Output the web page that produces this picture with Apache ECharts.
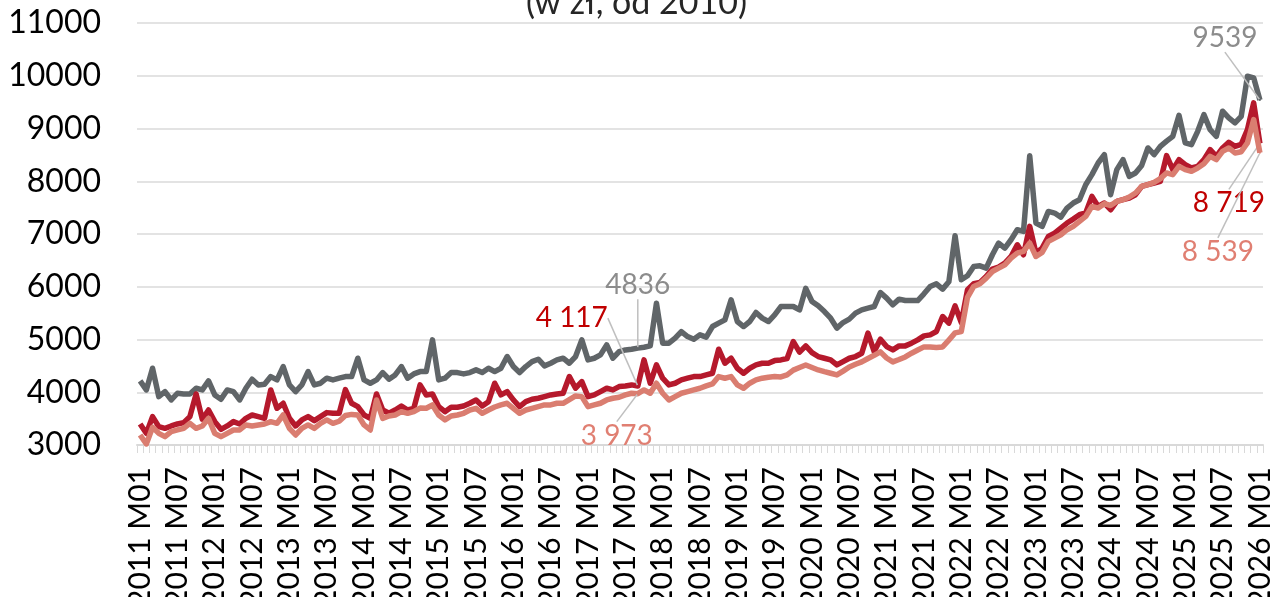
<!DOCTYPE html>
<html>
<head>
<meta charset="utf-8">
<script src="https://cdn.jsdelivr.net/npm/echarts@6/dist/echarts.min.js"></script>
<style>
    html, body {margin: 0; padding: 0; background: #fff;}
    #chart {width: 1273px; height: 597px;}
</style>
</head>
<body>
<div id="chart"></div>
<script>
// kategorie: miesiące 2011 M01 - 2026 M01
let months = [];
for (let y = 2011; y <= 2026; y++) {
    for (let m = 1; m <= 12; m++) {
        if (y === 2026 && m > 1) break;
        months.push(y + ' M' + (m < 10 ? '0' + m : m));
    }
}

let y_ticks = [3000, 4000, 5000, 6000, 7000, 8000, 9000, 10000, 11000];

// szara linia
let gray_values = [
    4215, 4044, 4455, 3917, 4012, 3854, 3981, 3968, 3968, 4076, 4044, 4215,
    3949, 3867, 4044, 4012, 3854, 4076, 4247, 4139, 4152, 4297, 4234, 4487,
    4139, 4012, 4139, 4392, 4139, 4171, 4266, 4234, 4266, 4297, 4297, 4645,
    4234, 4171, 4234, 4373, 4247, 4329, 4487, 4266, 4348, 4392, 4392, 4993,
    4234, 4266, 4373, 4373, 4348, 4373, 4424, 4373, 4455, 4392, 4455, 4677,
    4487, 4373, 4487, 4581, 4626, 4500, 4550, 4613, 4645, 4550, 4677, 4993,
    4613, 4645, 4708, 4898, 4645, 4771, 4803, 4816, 4836, 4854, 4879, 5689,
    4930, 4930, 5025, 5151, 5056, 5006, 5088, 5044, 5246, 5310, 5373, 5752,
    5341, 5246, 5341, 5512, 5405, 5341, 5467, 5625, 5625, 5625, 5560, 5970,
    5720, 5638, 5530, 5404, 5215, 5321, 5386, 5500, 5562, 5594, 5625, 5891,
    5784, 5657, 5765, 5739, 5739, 5739, 5866, 6005, 6056, 5955, 6094, 6967,
    6132, 6208, 6385, 6397, 6353, 6606, 6828, 6733, 6891, 7081, 7049, 8485,
    7208, 7144, 7428, 7397, 7321, 7492, 7587, 7650, 7935, 8125, 8346, 8504,
    7745, 8220, 8409, 8093, 8157, 8300, 8631, 8504, 8662, 8760, 8852, 9250,
    8726, 8694, 8947, 9263, 8979, 8852, 9327, 9201, 9106, 9231, 9991, 9960,
    9539
];

// czerwona linia
let red_values = [
    3399, 3221, 3538, 3348, 3316, 3361, 3399, 3424, 3538, 3968, 3487, 3664,
    3443, 3297, 3361, 3443, 3399, 3506, 3569, 3538, 3506, 4044, 3696, 3791,
    3506, 3361, 3475, 3538, 3462, 3538, 3614, 3601, 3601, 4050, 3791, 3727,
    3569, 3506, 3968, 3664, 3601, 3664, 3740, 3664, 3696, 4139, 3949, 3968,
    3727, 3632, 3715, 3715, 3740, 3791, 3854, 3740, 3822, 4171, 3949, 4012,
    3854, 3727, 3822, 3867, 3886, 3917, 3949, 3968, 3981, 4297, 4076, 4202,
    3917, 3949, 4012, 4076, 4044, 4107, 4120, 4139, 4117, 4613, 4171, 4518,
    4266, 4139, 4171, 4234, 4266, 4297, 4297, 4329, 4360, 4816, 4550, 4645,
    4455, 4360, 4455, 4518, 4550, 4550, 4600, 4613, 4640, 4961, 4760, 4879,
    4752, 4677, 4645, 4613, 4518, 4582, 4645, 4677, 4740, 5120, 4771, 5006,
    4866, 4803, 4879, 4879, 4930, 4993, 5069, 5088, 5151, 5436, 5310, 5638,
    5321, 5942, 6056, 6081, 6194, 6334, 6373, 6449, 6574, 6796, 6606, 7144,
    6638, 6733, 6954, 7018, 7113, 7208, 7283, 7365, 7400, 7713, 7523, 7587,
    7460, 7618, 7650, 7682, 7745, 7903, 7935, 7967, 8000, 8485, 8220, 8409,
    8314, 8251, 8282, 8409, 8599, 8472, 8631, 8738, 8662, 8700, 8979, 9485,
    8719
];

// jasnoczerwona linia
let salmon_values = [
    3190, 3020, 3335, 3221, 3158, 3253, 3285, 3316, 3411, 3316, 3361, 3506,
    3221, 3158, 3221, 3285, 3285, 3380, 3361, 3380, 3399, 3443, 3411, 3569,
    3316, 3190, 3316, 3380, 3316, 3411, 3475, 3411, 3450, 3560, 3580, 3569,
    3380, 3285, 3854, 3506, 3550, 3569, 3632, 3601, 3632, 3700, 3696, 3759,
    3569, 3475, 3550, 3569, 3601, 3664, 3696, 3601, 3664, 3720, 3760, 3791,
    3696, 3601, 3664, 3696, 3727, 3759, 3759, 3791, 3791, 3860, 3930, 3917,
    3727, 3759, 3791, 3854, 3886, 3905, 3949, 3981, 3973, 4044, 3981, 4171,
    3981, 3854, 3917, 3981, 4012, 4044, 4076, 4120, 4158, 4297, 4266, 4297,
    4139, 4076, 4171, 4234, 4266, 4285, 4297, 4290, 4330, 4420, 4470, 4518,
    4470, 4423, 4390, 4360, 4328, 4400, 4480, 4530, 4575, 4640, 4700, 4765,
    4650, 4575, 4620, 4670, 4740, 4800, 4860, 4860, 4850, 4860, 4990, 5125,
    5150, 5800, 6005, 6056, 6163, 6289, 6353, 6416, 6543, 6638, 6669, 6828,
    6574, 6650, 6859, 6923, 6986, 7081, 7144, 7238, 7333, 7523, 7492, 7574,
    7540, 7618, 7650, 7701, 7777, 7903, 7935, 7979, 8050, 8157, 8125, 8282,
    8220, 8188, 8250, 8333, 8472, 8409, 8567, 8631, 8536, 8560, 8726, 9169,
    8539
];

// punkty z etykietami
let annotated = [80, 180];

// przesunięcia etykiet względem punktu (px)
let offsets_gray = {80: [0, -63], 180: [-35, -62]};
let offsets_red = {80: [-66, -68], 180: [-31, 60]};
let offsets_salmon = {80: [-21, 42], 180: [-42, 99]};

let fmt_plain = v => String(v);
let fmt_space = v => {
    let s = String(v);
    return s.length > 3 ? s.slice(0, -3) + ' ' + s.slice(-3) : s;
};

let build_data = function (values, fmt, labelColor) {
    return values.map((v, i) => {
        if (annotated.indexOf(i) < 0) return v;
        return {
            value: v,
            symbol: 'circle',
            symbolSize: 2,
            label: {show: true, formatter: fmt(v), color: labelColor}
        };
    });
};

let make_series = function (name, values, fmt, color, labelColor, offsets, z) {
    return {
        name: name,
        type: 'line',
        data: build_data(values, fmt, labelColor),
        symbol: 'none',
        showSymbol: true,
        showAllSymbol: true,
        z: z,
        lineStyle: {width: 5.5, color: color, join: 'round'},
        itemStyle: {color: color},
        label: {
            show: false,
            position: 'inside',
            fontFamily: 'Lato',
            fontSize: 28
        },
        labelLine: {
            show: true,
            length2: 0,
            lineStyle: {color: '#bfbfbf', width: 1.5}
        },
        labelLayout: function (p) {
            let o = offsets[p.dataIndex];
            return o ? {dx: o[0], dy: o[1]} : {};
        },
        emphasis: {disabled: true},
        silent: true
    };
};

let chart = echarts.init(document.getElementById('chart'));

let option = {
    animation: false,
    backgroundColor: '#ffffff',
    title: {
        text: '(w zł, od 2010)',
        left: 'center',
        top: -14,
        padding: 0,
        textStyle: {fontFamily: 'Lato', fontSize: 34, fontWeight: 'normal', color: '#262626'}
    },
    grid: {left: 137, right: 10, top: 23, bottom: 152, outerBoundsMode: 'none', containLabel: false},
    xAxis: {
        type: 'category',
        data: months,
        boundaryGap: true,
        axisLine: {lineStyle: {color: '#d9d9d9', width: 2}},
        axisTick: {show: true, interval: 0, length: 8, lineStyle: {color: '#d9d9d9', width: 1}},
        axisLabel: {
            interval: 5,
            rotate: 90,
            margin: 22,
            fontFamily: 'Lato',
            fontSize: 30,
            color: '#000'
        },
        splitLine: {show: false}
    },
    yAxis: {
        type: 'value',
        min: y_ticks[0],
        max: y_ticks[y_ticks.length - 1],
        interval: 1000,
        axisLine: {show: false},
        axisTick: {show: false},
        axisLabel: {margin: 36, fontFamily: 'Lato', fontSize: 32, color: '#000', formatter: v => String(v)},
        splitLine: {lineStyle: {color: '#e3e3e3', width: 2}}
    },
    series: [
        make_series('szara', gray_values, fmt_plain, '#606568', '#8c8c8c', offsets_gray, 2),
        make_series('czerwona', red_values, fmt_space, '#b5192c', '#c00000', offsets_red, 3),
        make_series('jasna', salmon_values, fmt_space, '#da7d70', '#e07f72', offsets_salmon, 4)
    ]
};

chart.setOption(option);
</script>
</body>
</html>
